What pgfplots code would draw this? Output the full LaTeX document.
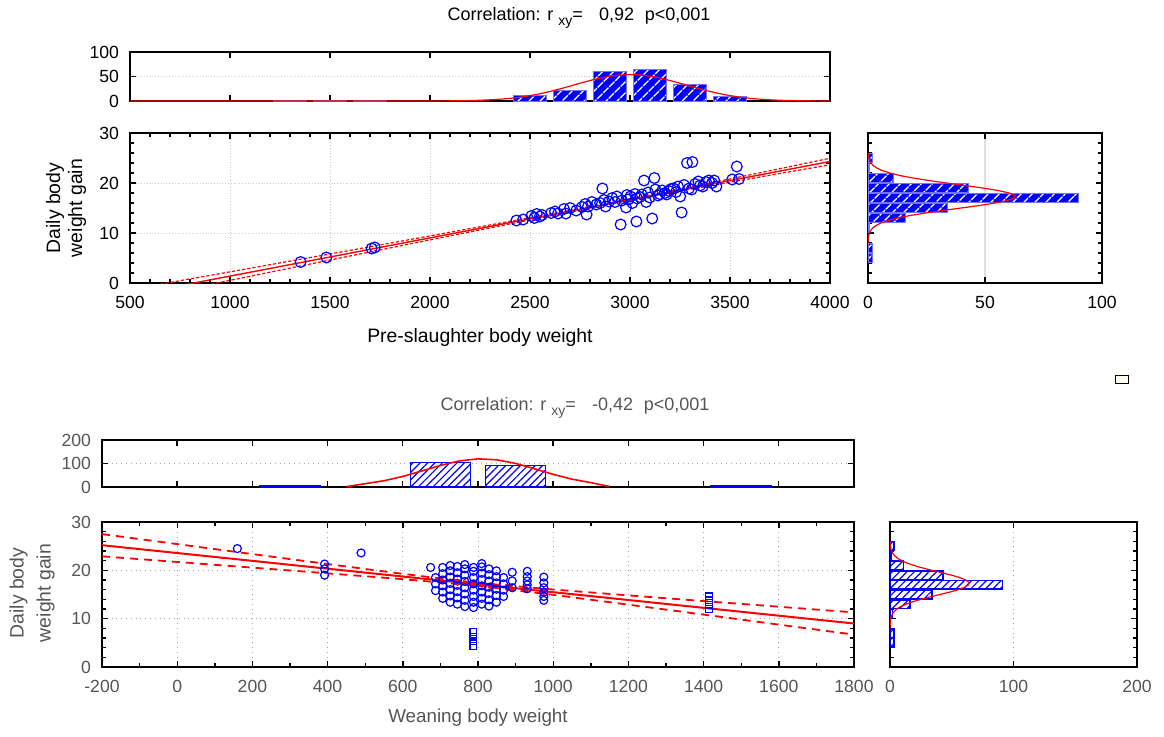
\documentclass[border=0pt]{standalone}
\usepackage{fontspec}
\setmainfont{Liberation Sans}
\usepackage{pgfplots}
\pgfplotsset{compat=1.18}
\usetikzlibrary{patterns.meta}

\definecolor{txtgray}{RGB}{85,85,85}

\pgfplotsset{
  panel/.style={
    scale only axis, anchor=south west,
    axis line style={line width=0.9pt},
    tick style={black, line width=0.7pt},
    major tick length=3pt, minor tick length=2pt,
    tick align=inside,
    scaled ticks=false,
    /pgf/number format/1000 sep={},
    /pgf/number format/assume math mode=true,
    ticklabel style={font=\fontsize{8.8}{10}\selectfont},
    xticklabel style={yshift=-3pt},
    yticklabel style={xshift=-2pt},
  },
  topbar/.style={draw=blue!55, line width=0.4pt, fill=blue,
    postaction={pattern={Lines[angle=45,distance=4pt,line width=0.8pt]}, pattern color=white}},
  lowbar/.style={draw=blue, line width=0.8pt, fill=white,
    postaction={pattern={Lines[angle=45,distance=2.6pt,line width=0.6pt]}, pattern color=blue}},
}

\begin{document}
\begin{tikzpicture}
\path[use as bounding box] (0,0) rectangle (582pt,368pt);

% ---------------- upper panel ----------------
\node[font=\fontsize{9}{11}\selectfont] at (289.5pt,359pt)
  {Correlation: r \raisebox{-0.45ex}{\fontsize{7}{8}\selectfont xy}=\hspace{0.9em}0,92\hspace{0.6em}p<0,001};

% histogram of pre-slaughter weight
\begin{axis}[panel, at={(65pt,317.5pt)}, width=350pt, height=24.5pt,
  xmin=500, xmax=4000, ymin=0, ymax=100,
  xtick={1000,1500,...,3500}, xticklabels={},
  ytick={0,50,100}, ymajorgrids, grid style={gray!40, densely dotted}]
\addplot[ybar, bar width=165, bar shift=0pt, topbar] coordinates {
  (1300,1) (1500,1) (1700,2)
  (2500,12) (2700,22) (2900,60) (3100,64) (3300,34) (3500,10)};
\addplot[red, line width=0.6pt] coordinates {
  (500,0) (1800,0) (1900,0.02) (2000,0.09) (2100,0.3) (2200,0.9) (2250,1.5)
  (2300,2.4) (2350,3.65) (2400,5.4) (2450,7.8) (2500,11.0) (2550,14.8)
  (2600,19.5) (2650,24.7) (2700,30.4) (2750,36.3) (2800,41.8) (2850,46.8)
  (2900,50.7) (2950,53.1) (3000,54) (3050,53.1) (3100,50.7) (3150,46.8)
  (3200,41.8) (3250,36.3) (3300,30.4) (3350,24.7) (3400,19.5) (3450,14.8)
  (3500,11.0) (3550,7.8) (3600,5.4) (3650,3.65) (3700,2.4) (3750,1.5)
  (3800,0.9) (3900,0.3) (4000,0.09)};
\end{axis}

% scatter: pre-slaughter weight vs daily gain
\begin{axis}[panel, at={(65pt,226.5pt)}, width=350pt, height=75pt,
  xmin=500, xmax=4000, ymin=0, ymax=30,
  xtick={500,1000,...,4000}, ytick={0,10,20,30},
  minor x tick num=4, minor y tick num=4,
  grid=major, grid style={gray!40, densely dotted}]
\addplot[red, line width=0.6pt, dash pattern=on 1.6pt off 1pt] coordinates {
  (600,-0.6) (1000,2.23) (1500,5.80) (2000,9.42) (2500,13.06) (2900,16.05)
  (3300,19.17) (3700,22.46) (4000,24.95)};
\addplot[red, line width=0.6pt, dash pattern=on 1.6pt off 1pt] coordinates {
  (600,-2.7) (1000,0.53) (1500,4.60) (2000,8.62) (2500,12.62) (2900,15.75)
  (3300,18.73) (3700,21.56) (4000,23.65)};
\addplot[red, line width=0.7pt] coordinates {(700,-0.91) (4000,24.30)};
\addplot[only marks, mark=o, mark size=2.7pt, mark options={blue, line width=0.6pt}] coordinates {
  (1353,4.2) (1482,5.1) (1708,6.9) (1724,7.1)
  (2432,12.5) (2466,12.7) (2507,13.4) (2522,13.0) (2534,13.8) (2549,13.3)
  (2560,13.6) (2606,14.0) (2625,14.3) (2640,13.9) (2670,14.8) (2679,13.9)
  (2700,15.0) (2731,14.5) (2760,15.2) (2776,15.8) (2783,13.7) (2790,15.3)
  (2810,16.2) (2832,15.7) (2850,16.0) (2862,18.9) (2870,16.6) (2878,15.3)
  (2895,16.3) (2911,17.0) (2925,16.2) (2934,17.3) (2953,11.7) (2960,16.5)
  (2980,15.1) (2985,17.6) (2991,16.7) (3002,17.3) (3012,16.0) (3025,17.8)
  (3032,12.3) (3036,16.9) (3050,17.2) (3059,17.7) (3070,20.5) (3081,16.2)
  (3090,18.1) (3099,17.1) (3111,12.9) (3122,21.0) (3127,18.7) (3140,17.5)
  (3149,17.8) (3161,18.5) (3175,18.0) (3183,17.7) (3195,18.4) (3205,18.8)
  (3217,18.9) (3230,18.2) (3240,19.3) (3251,17.3) (3258,14.1) (3270,19.6)
  (3285,24.0) (3295,18.9) (3308,18.7) (3312,24.2) (3325,19.8) (3342,20.3)
  (3350,19.5) (3364,19.3) (3380,20.2) (3394,20.5) (3410,20.0) (3421,20.5)
  (3432,19.3) (3511,20.7) (3534,23.3) (3545,20.8)};
\end{axis}

% histogram of daily gain (upper)
\begin{axis}[panel, at={(434pt,226.5pt)}, width=117pt, height=75pt,
  xmin=0, xmax=100, ymin=0, ymax=30,
  xtick={0,50,100}, ytick={0,10,20,30}, yticklabels={}, minor y tick num=4,
  xmajorgrids, grid style={gray!25, line width=0.8pt}]
\addplot[xbar, bar width=1.8, bar shift=0pt, topbar] coordinates {
  (2,25) (0.8,23) (11,21) (43,19) (90,17) (34,15) (16,13) (0.8,11) (2,7) (2,5)};
\addplot[red, line width=0.6pt] coordinates {
  (0.03,8) (0.08,8.5) (0.16,9) (0.32,9.5) (0.62,10) (1.14,10.5) (2.0,11)
  (3.4,11.5) (5.5,12) (8.5,12.5) (12.7,13) (18.0,13.5) (24.5,14) (31.9,14.5)
  (39.8,15) (47.6,15.5) (54.4,16) (59.6,16.5) (62.5,17) (62.8,17.5) (60.4,18)
  (55.6,18.5) (49.0,19) (41.4,19.5) (33.5,20) (25.9,20.5) (19.2,21) (13.6,21.5)
  (9.3,22) (6.0,22.5) (3.8,23) (2.2,23.5) (1.3,24) (0.7,24.5) (0.37,25)
  (0.18,25.5) (0.09,26)};
\end{axis}

\node[font=\fontsize{9.7}{11}\selectfont] at (240pt,199.5pt) {Pre-slaughter body weight};
\node[rotate=90, align=center, font=\fontsize{9.7}{11}\selectfont] at (33pt,264pt)
  {Daily body\\weight gain};

% stray marker box
\draw[line width=0.5pt, fill=yellow!6] (557.5pt,176.5pt) rectangle (564pt,180.5pt);

% ---------------- lower panel ----------------
\node[font=\fontsize{9}{11}\selectfont, text=txtgray] at (287.5pt,164pt)
  {Correlation: r \raisebox{-0.45ex}{\fontsize{7}{8}\selectfont xy}=\hspace{0.9em}-0,42\hspace{0.6em}p<0,001};

% histogram of weaning weight
\begin{axis}[panel, at={(51pt,124.5pt)}, width=376pt, height=23.5pt,
  ticklabel style={text=txtgray},
  xmin=-200, xmax=1800, ymin=0, ymax=200,
  xtick={-200,0,...,1800}, xticklabels={},
  ytick={0,100,200}, ymajorgrids, grid style={gray!70, dotted}]
\addplot[ybar, bar width=160, bar shift=0pt, lowbar] coordinates {
  (300,4) (700,105) (900,92) (1500,4)};
\addplot[red, line width=0.8pt] coordinates {
  (450,1.5) (500,14.2) (550,26.7) (600,45.0) (650,67.9) (700,91.7) (750,110.8)
  (800,119.7) (850,115.8) (900,100.3) (950,77.6) (1000,53.8) (1050,33.4)
  (1100,18.5) (1150,2)};
\end{axis}

% scatter: weaning weight vs daily gain
\begin{axis}[panel, at={(51pt,34.5pt)}, width=376pt, height=72.5pt,
  ticklabel style={text=txtgray},
  xmin=-200, xmax=1800, ymin=0, ymax=30,
  xtick={-200,0,...,1800}, ytick={0,10,20,30},
  minor x tick num=1, minor y tick num=4,
  grid=major, grid style={gray!70, dotted}]
\addplot[red, line width=0.9pt, dash pattern=on 4pt off 3pt] coordinates {
  (-200,27.50) (0,25.43) (200,23.36) (400,21.30) (600,19.27) (800,17.40)
  (1000,16.03) (1200,14.82) (1400,13.64) (1600,12.47) (1800,11.30)};
\addplot[red, line width=0.9pt, dash pattern=on 4pt off 3pt] coordinates {
  (-200,22.90) (0,21.73) (200,20.56) (400,19.38) (600,18.17) (800,16.80)
  (1000,14.93) (1200,12.90) (1400,10.84) (1600,8.77) (1800,6.70)};
\addplot[red, line width=1pt] coordinates {(-200,25.20) (1800,9.00)};
\addplot[only marks, mark=*, mark size=1.6pt, red] coordinates {
  (700,17.91) (745,17.55) (790,17.18) (835,16.82) (880,16.45) (925,16.09) (975,15.68)};
\addplot[only marks, mark=o, mark size=2pt, mark options={blue, line width=0.6pt}] coordinates {
  (160,24.5) (392,21.3) (392,20.3) (392,19.0) (489,23.6) (674,20.6)
  (687,15.8) (687,17.2) (687,18.5)
  (706,14.2) (706,15.5) (706,16.8) (706,18.0) (706,19.3) (706,20.6)
  (726,13.4) (726,14.7) (726,16.0) (726,17.3) (726,18.6) (726,19.9) (726,21.0)
  (745,13.0) (745,14.3) (745,15.6) (745,16.9) (745,18.2) (745,19.5) (745,20.8)
  (765,12.5) (765,13.8) (765,15.1) (765,16.4) (765,17.7) (765,19.0) (765,20.3) (765,21.2)
  (788,12.3) (788,13.4) (788,14.6) (788,15.9) (788,17.2) (788,18.5) (788,19.8) (788,20.6)
  (810,13.0) (810,14.2) (810,15.5) (810,16.8) (810,18.1) (810,19.4) (810,20.7) (810,21.4)
  (829,12.6) (829,13.9) (829,15.2) (829,16.5) (829,17.8) (829,19.1) (829,20.3)
  (849,13.4) (849,14.8) (849,16.1) (849,17.4) (849,18.7) (849,19.9)
  (868,14.6) (868,15.9) (868,17.2) (868,18.5)
  (891,16.4) (891,17.8) (891,19.6)
  (931,16.2) (931,17.0) (931,17.8) (931,18.7) (931,19.8)
  (975,13.8) (975,14.6) (975,15.5) (975,16.4) (975,17.4) (975,18.6)};
\addplot[only marks, mark=square, mark size=1.7pt, mark options={blue, line width=0.6pt}] coordinates {
  (788,4.3) (788,5.3) (788,6.3) (788,7.2)
  (1415,12.0) (1415,12.9) (1415,13.8) (1415,14.6)};
\end{axis}

% histogram of daily gain (lower)
\begin{axis}[panel, at={(445pt,34.5pt)}, width=123.5pt, height=72.5pt,
  ticklabel style={text=txtgray},
  xmin=0, xmax=200, ymin=0, ymax=30,
  xtick={0,100,200}, ytick={0,10,20,30}, yticklabels={}, minor y tick num=4,
  xmajorgrids, grid style={gray!70, dotted}]
\addplot[xbar, bar width=1.8, bar shift=0pt, lowbar] coordinates {
  (3,25) (1,23) (11,21) (43,19) (91,17) (34,15) (16,13) (2,11) (3,7) (3,5)};
\addplot[red, line width=0.6pt] coordinates {
  (0.03,8) (0.08,8.5) (0.16,9) (0.32,9.5) (0.62,10) (1.14,10.5) (2.0,11)
  (3.4,11.5) (5.5,12) (8.6,12.5) (12.9,13) (18.3,13.5) (24.9,14) (32.4,14.5)
  (40.4,15) (48.4,15.5) (55.3,16) (60.5,16.5) (63.5,17) (63.8,17.5) (61.4,18)
  (56.5,18.5) (49.8,19) (42.1,19.5) (34.0,20) (26.3,20.5) (19.5,21) (13.8,21.5)
  (9.4,22) (6.1,22.5) (3.9,23) (2.2,23.5) (1.3,24) (0.7,24.5) (0.37,25)
  (0.18,25.5) (0.09,26)};
\end{axis}

\node[font=\fontsize{9.4}{11}\selectfont, text=txtgray] at (239pt,9pt) {Weaning body weight};
\node[rotate=90, align=center, font=\fontsize{9.7}{13.5}\selectfont, text=txtgray] at (16pt,71.5pt)
  {Daily body\\weight gain};

\end{tikzpicture}
\end{document}
